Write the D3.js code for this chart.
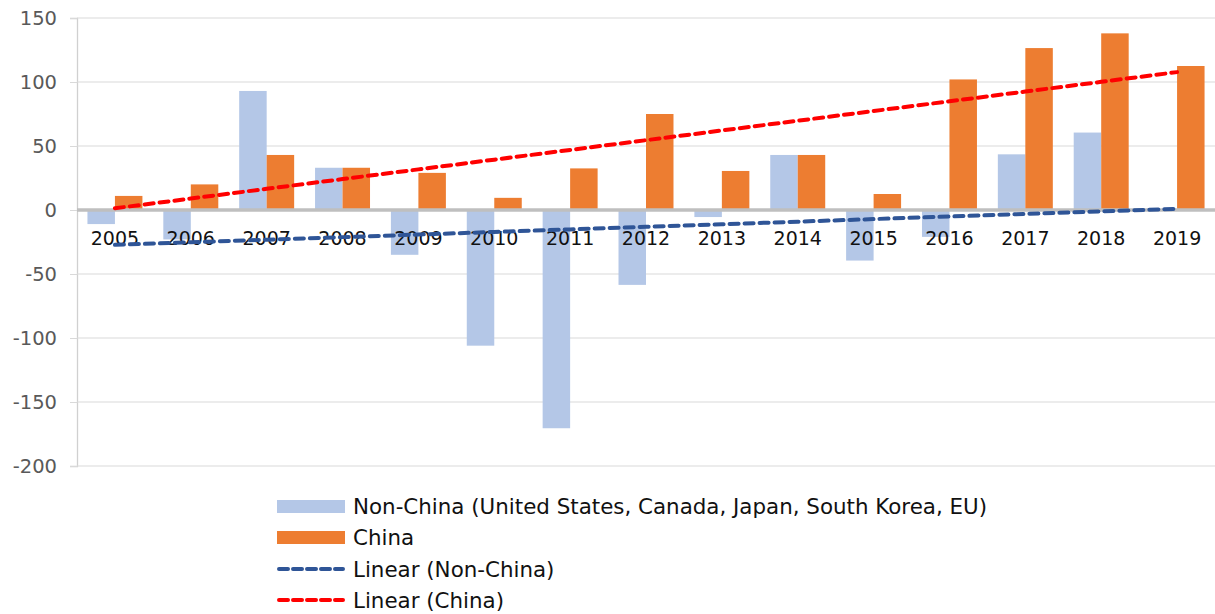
<!DOCTYPE html>
<html>
<head>
<meta charset="utf-8">
<script src="https://cdn.jsdelivr.net/npm/d3@7"></script>
<style>
  html, body { margin: 0; padding: 0; background: #fff; }
  svg { display: block; font-family: "DejaVu Sans", sans-serif; }
</style>
</head>
<body>
<svg id="chart" width="1215" height="614"></svg>
<script>
// Annual values by year
const years = ["2005","2006","2007","2008","2009","2010","2011","2012","2013","2014","2015","2016","2017","2018","2019"];
const nonChina = [-11, -23, 93, 33, -35, -106, -170.5, -58.5, -5.5, 43, -39.5, -21, 43.5, 60.5, 0];
const china = [11, 20, 43, 33, 29, 9.5, 32.5, 75, 30.5, 43, 12.5, 102, 126.5, 138, 112.5];
const yTicks = [150, 100, 50, 0, -50, -100, -150, -200];

const seriesNames = ["Non-China (United States, Canada, Japan, South Korea, EU)", "China"];
const trendNames = ["Linear (Non-China)", "Linear (China)"];
const barColors = ["#b4c7e7", "#ed7d31"];
const trendColors = ["#2f5597", "#ff0000"];

const svg = d3.select("#chart");
const plot = { left: 77, right: 1215, top: 18, bottom: 466 };

const x0 = d3.scaleBand().domain(years).range([plot.left, plot.right]);
const x1 = d3.scaleBand().domain([0, 1]).range([0, x0.bandwidth()]).paddingInner(0).paddingOuter(0.38);
const y = d3.scaleLinear().domain([-200, 150]).range([plot.bottom, plot.top]);

// Gridlines and value axis (plain hyphen for negatives)
const yAxis = d3.axisLeft(y).tickValues(yTicks).tickSize(7).tickPadding(13).tickFormat(d => String(d));
const gy = svg.append("g").attr("transform", `translate(${plot.left},0)`).call(yAxis);
gy.select(".domain").attr("stroke", "#d0d0d0").attr("stroke-width", 1.3);
gy.selectAll(".tick line").attr("stroke", "#d9d9d9");
gy.selectAll(".tick text").attr("fill", "#595959").style("font-size", "19.5px")
  .style("font-family", '"DejaVu Sans", sans-serif');

svg.append("g").selectAll("line").data(yTicks.filter(d => d !== 0)).join("line")
  .attr("x1", plot.left).attr("x2", plot.right)
  .attr("y1", d => y(d)).attr("y2", d => y(d))
  .attr("stroke", "#d9d9d9").attr("stroke-width", 1.2);

// Bars
const groups = svg.append("g").selectAll("g").data(years).join("g")
  .attr("transform", d => `translate(${x0(d)},0)`);
groups.selectAll("rect").data((d, i) => [nonChina[i], china[i]]).join("rect")
  .attr("x", (d, k) => x1(k))
  .attr("width", x1.bandwidth())
  .attr("y", d => y(Math.max(0, d)))
  .attr("height", d => Math.abs(y(d) - y(0)))
  .attr("fill", (d, k) => barColors[k]);

// Zero line
svg.append("line")
  .attr("x1", plot.left).attr("x2", plot.right)
  .attr("y1", y(0)).attr("y2", y(0))
  .attr("stroke", "#bfbfbf").attr("stroke-width", 3.5);

// Category labels next to the zero line
svg.append("g").selectAll("text").data(years).join("text")
  .attr("x", d => x0(d) + x0.bandwidth() / 2)
  .attr("y", y(0) + 35)
  .attr("text-anchor", "middle")
  .attr("fill", "#111")
  .style("font-size", "19px")
  .text(d => d);

// Least-squares trend lines
function linearFit(vals) {
  const n = vals.length;
  const mx = (n - 1) / 2;
  const my = d3.mean(vals);
  let sxy = 0, sxx = 0;
  vals.forEach((v, i) => { sxy += (i - mx) * (v - my); sxx += (i - mx) * (i - mx); });
  const b = sxy / sxx;
  return vals.map((v, i) => my + b * (i - mx));
}
const trendLine = d3.line()
  .x((d, i) => x0(years[i]) + x0.bandwidth() / 2)
  .y(d => y(d));
[nonChina, china].forEach((vals, k) => {
  svg.append("path")
    .datum(linearFit(vals))
    .attr("d", trendLine)
    .attr("fill", "none")
    .attr("stroke", trendColors[k])
    .attr("stroke-width", 4)
    .attr("stroke-dasharray", "9,6")
    .attr("stroke-linecap", "round");
});

// Legend
const legend = svg.append("g").attr("transform", "translate(277,0)");
const rowY = [506.5, 537.5, 569, 600];
seriesNames.forEach((name, k) => {
  legend.append("rect").attr("x", 0).attr("y", rowY[k] - 6.5).attr("width", 68).attr("height", 13)
    .attr("fill", barColors[k]);
  legend.append("text").attr("x", 76).attr("y", rowY[k] + 7.5).attr("fill", "#111")
    .style("font-size", "21.4px").text(name);
});
trendNames.forEach((name, k) => {
  const yy = rowY[k + 2];
  legend.append("line").attr("x1", 2).attr("x2", 66).attr("y1", yy).attr("y2", yy)
    .attr("stroke", trendColors[k]).attr("stroke-width", 4)
    .attr("stroke-dasharray", "9,5").attr("stroke-linecap", "round");
  legend.append("text").attr("x", 76).attr("y", yy + 7.5).attr("fill", "#111")
    .style("font-size", "21.4px").text(name);
});
</script>
</body>
</html>
